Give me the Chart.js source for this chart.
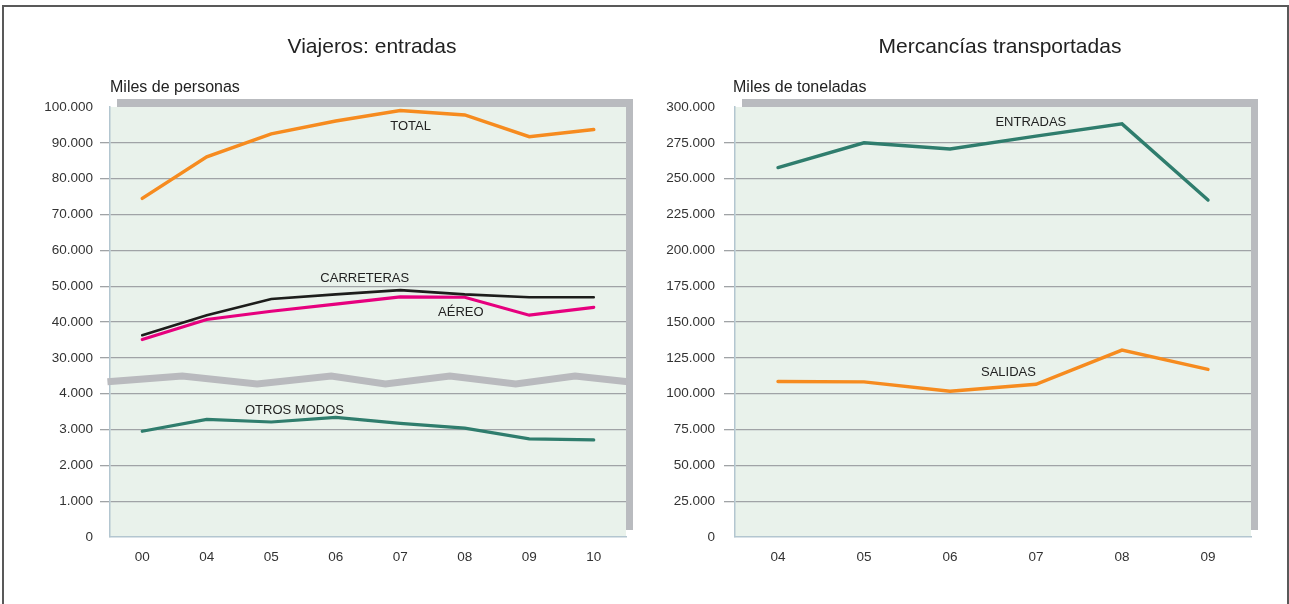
<!DOCTYPE html>
<html>
<head>
<meta charset="utf-8">
<script src="https://cdn.jsdelivr.net/npm/chart.js@4/dist/chart.umd.min.js"></script>
<style>
  body { margin: 0; background: #fff; width: 1289px; height: 604px; overflow: hidden; position: relative; }
  #marco { position: absolute; left: 2px; top: 5px; width: 1283px; height: 620px; border: 2px solid #595959; border-bottom: none; }
  canvas { position: absolute; top: 0; }
  #viajeros { left: 0; }
  #mercancias { left: 640px; }
</style>
</head>
<body>
<div id="marco"></div>
<canvas id="viajeros" width="640" height="604"></canvas>
<canvas id="mercancias" width="649" height="604"></canvas>
<script>
// Datos - viajeros (miles de personas)
const añosViajeros = ['00', '04', '05', '06', '07', '08', '09', '10'];
const total = [74500, 86100, 92500, 96100, 99000, 97800, 91700, 93700];
const carreteras = [36300, 41900, 46400, 47700, 48900, 47700, 46900, 46900];
const aereo = [35100, 40700, 43000, 45000, 47000, 46900, 41900, 44100];
const otrosModos = [2950, 3280, 3210, 3340, 3170, 3040, 2740, 2710];
const ticksPersonas = [0, 1000, 2000, 3000, 4000, 30000, 40000, 50000, 60000, 70000, 80000, 90000, 100000];

// Datos - mercancias (miles de toneladas)
const añosMercancias = ['04', '05', '06', '07', '08', '09'];
const entradas = [257700, 275000, 270700, 279700, 288200, 235100];
const salidas = [108500, 108200, 101700, 106600, 130400, 116900];
const ticksToneladas = [0, 25000, 50000, 75000, 100000, 125000, 150000, 175000, 200000, 225000, 250000, 275000, 300000];

const FUENTE = '"Liberation Sans", Arial, sans-serif';

function miles(v) {
  return String(v).replace(/\B(?=(\d{3})+(?!\d))/g, '.');
}

// eje cortado: 0-4.000 abajo, 30.000-100.000 arriba
function ejePersonas(v) {
  return v <= 4000 ? v / 1000 : 5 + (v - 30000) / 10000;
}

const decorado = {
  id: 'decorado',
  beforeDraw(chart, args, o) {
    const {ctx, chartArea: a} = chart;
    ctx.save();
    ctx.fillStyle = '#b9bbbf';
    ctx.fillRect(a.left + 7, a.top - 8, a.right - a.left, a.bottom - a.top + 1);
    ctx.fillStyle = '#e9f2eb';
    ctx.fillRect(a.left, a.top, a.right - a.left, a.bottom - a.top);
    ctx.fillStyle = '#222';
    ctx.textBaseline = 'middle';
    ctx.textAlign = 'center';
    ctx.font = '21px ' + FUENTE;
    ctx.fillText(o.titulo, o.tituloX, 47);
    ctx.textAlign = 'left';
    ctx.font = '16px ' + FUENTE;
    ctx.fillText(o.unidad, a.left + o.unidadDx, 88);
    ctx.restore();
  },
  afterDatasetsDraw(chart, args, o) {
    const {ctx} = chart;
    const x = chart.scales.x, y = chart.scales.y;
    ctx.save();
    if (o.corte) {
      ctx.strokeStyle = '#b9babe';
      ctx.lineWidth = 7;
      ctx.lineJoin = 'miter';
      ctx.beginPath();
      o.corte.forEach((p, i) => {
        const px = x.getPixelForValue(p[0]), py = y.getPixelForValue(p[1]);
        if (i === 0) ctx.moveTo(px, py); else ctx.lineTo(px, py);
      });
      ctx.stroke();
    }
    ctx.fillStyle = '#222';
    ctx.font = '13px ' + FUENTE;
    ctx.textAlign = 'center';
    ctx.textBaseline = 'middle';
    o.etiquetas.forEach(e => {
      ctx.fillText(e.texto, x.getPixelForValue(e.i), y.getPixelForValue(e.v));
    });
    ctx.restore();
  }
};

function serie(datos, color, ancho) {
  return {
    data: datos,
    borderColor: color,
    borderWidth: ancho,
    pointRadius: 0,
    tension: 0,
    borderCapStyle: 'round',
    borderJoinStyle: 'miter',
    fill: false
  };
}

function opcionesEjes(anchoY, nTicks, labelY, ticksLen, ticksPad) {
  return {
    x: {
      offset: true,
      grid: { display: false, drawTicks: false },
      border: { display: true, color: '#b3c6d0', width: 1.5 },
      ticks: { color: '#333', font: { family: FUENTE, size: 13.5 }, padding: 12 },
      afterFit: s => { s.height = 67; }
    },
    y: {
      min: 0,
      max: nTicks.max,
      afterBuildTicks: s => { s.ticks = nTicks.valores.map(v => ({value: v})); },
      grid: {
        color: c => (c.index === 0 || c.index === nTicks.valores.length - 1) ? 'rgba(0,0,0,0)' : '#a0a3a6',
        lineWidth: 1.3,
        tickLength: ticksLen
      },
      border: { display: true, color: '#b3c6d0', width: 1.5 },
      ticks: { color: '#333', font: { family: FUENTE, size: 13.5 }, padding: ticksPad, callback: labelY },
      afterFit: s => { s.width = anchoY; }
    }
  };
}

new Chart(document.getElementById('viajeros'), {
  type: 'line',
  data: {
    labels: añosViajeros,
    datasets: [
      serie(total.map(ejePersonas), '#f68b1f', 3.5),
      serie(carreteras.map(ejePersonas), '#1d1d1b', 2.6),
      serie(aereo.map(ejePersonas), '#e6007e', 3.2),
      serie(otrosModos.map(ejePersonas), '#2f7d6d', 3.2)
    ]
  },
  options: {
    responsive: false,
    devicePixelRatio: 1,
    animation: false,
    layout: { padding: { left: 0, right: 14, top: 107, bottom: 0 } },
    plugins: {
      legend: { display: false },
      tooltip: { enabled: false },
      decorado: {
        titulo: 'Viajeros: entradas', tituloX: 372, unidad: 'Miles de personas', unidadDx: 0,
        corte: [[-0.54, 4.33], [0.62, 4.49], [1.78, 4.27], [2.93, 4.49], [3.77, 4.27], [4.77, 4.49], [5.79, 4.27], [6.71, 4.49], [7.53, 4.33]],
        etiquetas: [
          { texto: 'TOTAL', i: 4.16, v: ejePersonas(94500) },
          { texto: 'CARRETERAS', i: 3.45, v: ejePersonas(52200) },
          { texto: 'AÉREO', i: 4.94, v: ejePersonas(42700) },
          { texto: 'OTROS MODOS', i: 2.36, v: ejePersonas(3540) }
        ]
      }
    },
    scales: opcionesEjes(110,
      { max: 12, valores: ticksPersonas.map(ejePersonas) },
      (v, i) => miles(ticksPersonas[i]), 10, 7)
  },
  plugins: [decorado]
});

new Chart(document.getElementById('mercancias'), {
  type: 'line',
  data: {
    labels: añosMercancias,
    datasets: [
      serie(entradas, '#2f7d6d', 3.4),
      serie(salidas, '#f68b1f', 3.4)
    ]
  },
  options: {
    responsive: false,
    devicePixelRatio: 1,
    animation: false,
    layout: { padding: { left: 0, right: 38, top: 107, bottom: 0 } },
    plugins: {
      legend: { display: false },
      tooltip: { enabled: false },
      decorado: {
        titulo: 'Mercancías transportadas', tituloX: 360, unidad: 'Miles de toneladas', unidadDx: -2,
        etiquetas: [
          { texto: 'ENTRADAS', i: 2.94, v: 289400 },
          { texto: 'SALIDAS', i: 2.68, v: 114800 }
        ]
      }
    },
    scales: opcionesEjes(95,
      { max: 300000, valores: ticksToneladas },
      (v, i) => miles(ticksToneladas[i]), 11, 9)
  },
  plugins: [decorado]
});
</script>
</body>
</html>
